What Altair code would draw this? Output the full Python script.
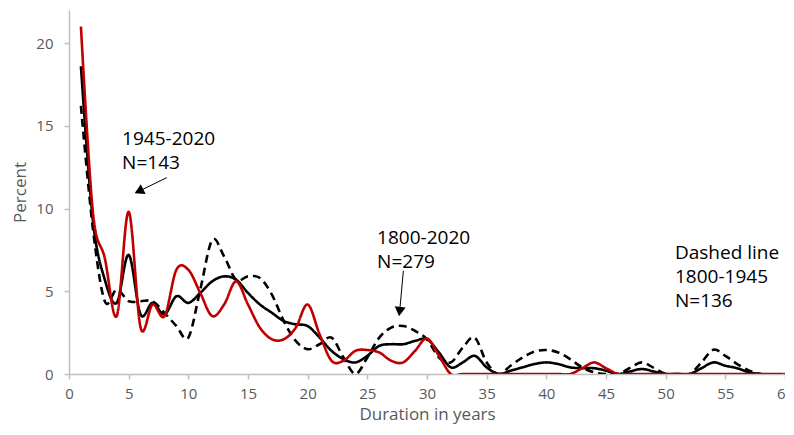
import altair as alt
import pandas as pd

# ---- data ----
years_red = list(range(1, 61))
red_1945_2020 = [21.0, 9.8, 7.0, 3.5, 9.8, 2.8, 4.2, 3.5, 6.3, 6.3,
                 4.9, 3.5, 4.2, 5.6, 4.2, 2.8, 2.1, 2.1, 2.8, 4.2,
                 2.4, 0.8, 0.8, 1.4, 1.45, 1.3, 0.8, 0.7, 1.4, 2.15,
                 1.1, 0.0, 0.0, 0.0, 0.0, 0.0, 0.0, 0.0, 0.0, 0.0,
                 0.0, 0.0, 0.35, 0.7, 0.35, 0.0, 0.0, 0.0, 0.0, 0.0,
                 0.0, 0.0, 0.0, 0.0, 0.0, 0.0, 0.0, 0.0, 0.0, 0.0]

years_all = list(range(1, 59))
black_1800_2020 = [18.6, 9.3, 5.7, 4.3, 7.2, 3.6, 4.3, 3.6, 4.7, 4.3,
                   4.9, 5.6, 5.9, 5.7, 4.9, 4.2, 3.7, 3.2, 3.0, 2.9,
                   2.2, 1.4, 0.9, 0.7, 1.1, 1.7, 1.8, 1.8, 2.0, 2.1,
                   1.3, 0.4, 0.7, 1.1, 0.4, 0.0, 0.2, 0.4, 0.6, 0.7,
                   0.6, 0.4, 0.35, 0.35, 0.2, 0.0, 0.15, 0.3, 0.15, 0.0,
                   0.0, 0.0, 0.35, 0.7, 0.5, 0.35, 0.1, 0.0]
dashed_1800_1945 = [16.2, 8.8, 4.4, 5.1, 4.4, 4.4, 4.4, 3.7, 2.9, 2.2,
                    5.1, 8.1, 7.1, 5.7, 5.9, 5.8, 4.8, 3.2, 2.0, 1.5,
                    1.8, 2.2, 1.0, 0.0, 1.0, 2.2, 2.8, 2.9, 2.6, 2.1,
                    1.0, 0.7, 1.6, 2.2, 0.7, 0.0, 0.5, 1.0, 1.35, 1.45,
                    1.3, 0.9, 0.4, 0.1, 0.0, 0.0, 0.37, 0.7, 0.37, 0.0,
                    0.0, 0.0, 0.7, 1.47, 1.1, 0.6, 0.2, 0.0]

x_ticks = list(range(0, 61, 5))
y_ticks = [0, 5, 10, 15, 20]

ann_text = ["1945-2020", "N=143", "1800-2020", "N=279", "Dashed line", "1800-1945", "N=136"]
ann_x = [4.45, 4.45, 25.82, 25.82, 50.78, 50.78, 50.78]
ann_y = [13.82, 12.38, 7.85, 6.38, 6.95, 5.48, 4.03]

arrow_x = [8.2, 28.02]
arrow_y = [11.87, 6.24]
arrow_hx = [5.98, 27.72]
arrow_hy = [11.09, 3.87]
arrow_angle = [244, 187]

# ---- tables ----
df = pd.concat([
    pd.DataFrame({"year": years_all, "pct": dashed_1800_1945, "series": "1800-1945"}),
    pd.DataFrame({"year": years_all, "pct": black_1800_2020, "series": "1800-2020"}),
    pd.DataFrame({"year": years_red, "pct": red_1945_2020, "series": "1945-2020"}),
], ignore_index=True)

df_ann = pd.DataFrame({"x": ann_x, "y": ann_y, "text": ann_text})
df_arrow = pd.DataFrame({"x": arrow_x, "y": arrow_y, "x2": arrow_hx, "y2": arrow_hy,
                         "angle": arrow_angle})

FONT = "Open Sans"
GRAY = "#BFBFBF"
LABEL = "#595959"

x_enc = alt.X("year:Q", scale=alt.Scale(domain=[0, 60], nice=False),
              axis=alt.Axis(values=x_ticks, title="Duration in years", grid=False,
                            domainColor=GRAY, domainWidth=1.5, tickColor=GRAY,
                            tickWidth=1.5, tickSize=5, labelColor=LABEL,
                            labelFont=FONT, labelFontSize=15, labelPadding=7,
                            titleColor=LABEL, titleFont=FONT, titleFontSize=17,
                            titleFontWeight="normal", titlePadding=5,
                            labelFlush=False))
y_enc = alt.Y("pct:Q", scale=alt.Scale(domain=[0, 22], nice=False),
              axis=alt.Axis(values=y_ticks, title="Percent", grid=False,
                            domainColor=GRAY, domainWidth=1.5, tickColor=GRAY,
                            tickWidth=1.5, tickSize=5, labelColor=LABEL,
                            labelFont=FONT, labelFontSize=15, labelPadding=11,
                            titleColor=LABEL, titleFont=FONT, titleFontSize=17,
                            titleFontWeight="normal", titlePadding=6))

base = alt.Chart(df)

def series_layer(name, color, dash):
    return base.transform_filter(alt.datum.series == name).mark_line(
        interpolate="cardinal", strokeWidth=2.6, color=color, strokeDash=dash,
        clip=True
    ).encode(x=x_enc, y=y_enc)

dashed = series_layer("1800-1945", "#000000", [8, 5])
black = series_layer("1800-2020", "#000000", [1, 0])
red = series_layer("1945-2020", "#C00000", [1, 0])

texts = alt.Chart(df_ann).mark_text(
    align="left", baseline="alphabetic", font=FONT, fontSize=19, color="#000000"
).encode(x="x:Q", y="y:Q", text="text:N")

shafts = alt.Chart(df_arrow).mark_rule(color="#000000", strokeWidth=1).encode(
    x="x:Q", y="y:Q", x2="x2:Q", y2="y2:Q")

heads = alt.Chart(df_arrow).mark_point(
    shape="triangle", filled=True, size=120, color="#000000", opacity=1
).encode(x="x2:Q", y="y2:Q", angle=alt.Angle("angle:Q", scale=None))

chart = alt.layer(dashed, black, red, shafts, heads, texts).properties(
    width=716, height=364,
    autosize=alt.AutoSizeParams(type="none"),
    padding={"left": 61, "top": 2, "right": 0, "bottom": 53},
    background="white",
).configure_view(stroke=None)

chart.save("out.html", embed_options={"renderer": "svg", "actions": False})
